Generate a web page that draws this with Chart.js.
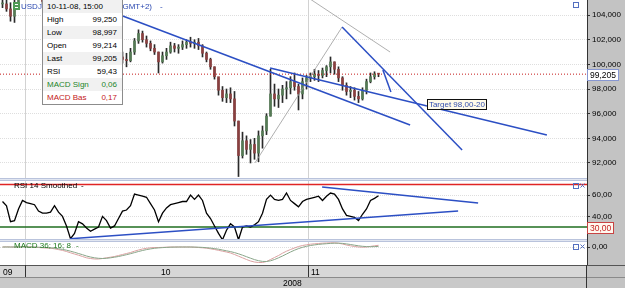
<!DOCTYPE html>
<html>
<head>
<meta charset="utf-8">
<script src="https://cdn.jsdelivr.net/npm/chart.js@4.4.1/dist/chart.umd.min.js"></script>
<style>
  html, body { margin: 0; padding: 0; background: #fff; }
  #wrap { position: relative; width: 625px; height: 288px; overflow: hidden; }
  #tip { position: absolute; left: 42px; top: -1px; width: 79px; border: 1px solid #8c8c8c; background: #fff;
         font: 8px 'Liberation Sans', Arial, sans-serif; color: #000; }
  #tip div { height: 13px; line-height: 13px; display: flex; justify-content: space-between; padding: 0 5px 0 4px; }
  #tip div:nth-child(odd) { background: #f1f1f1; }
  #tip .sig { color: #23852a; }
  #tip .bas { color: #c42020; }
</style>
</head>
<body>
<div id="wrap">
  <canvas id="chart" width="625" height="288"></canvas>
  <div id="tip"></div>
</div>
<script>
// USDJPY, one slot = one 4h bar
var hi = [105.4,105.3,105.0,105.3,106.3,106.4,106.2,106.1,106.3,106.0,
          105.7,105.4,105.2,105.3,105.1,104.6,104.0,103.1,102.5,102.9,
          102.8,102.3,101.6,101.2,101.4,101.8,101.6,100.8,100.4,100.9,
          101.0,100.9,101.3,102.1,102.8,102.7,102.3,101.9,101.6,101.0,
          101.0,101.3,101.8,101.7,101.6,101.9,102.0,102.2,102.0,102.1,
          101.6,101.0,100.5,99.8,98.9,98.2,98.0,98.1,97.8,95.4,
          94.5,94.2,93.9,94.0,94.6,95.0,96.0,99.6,98.4,98.0,
          98.3,98.6,99.0,99.3,98.4,98.9,99.1,99.3,99.6,99.5,
          99.7,99.9,100.6,100.2,99.8,99.0,98.5,98.2,98.1,97.8,
          98.1,98.8,99.3,99.4,99.25];
var lo = [104.6,104.3,103.5,103.4,105.4,105.6,105.5,105.4,105.6,105.3,
          104.9,104.6,104.5,104.6,104.2,103.6,102.6,101.4,101.5,101.9,
          101.8,101.1,100.6,100.3,100.5,100.9,100.2,99.6,99.4,99.9,
          100.1,99.8,100.2,100.8,101.7,101.8,101.4,101.1,100.8,99.3,
          100.1,100.4,100.9,101.0,100.9,101.2,101.3,101.4,101.3,101.2,
          100.6,100.2,99.6,98.8,97.5,97.0,96.9,96.9,95.0,90.9,
          92.4,92.7,92.0,92.3,92.1,93.2,94.3,95.8,96.6,96.5,
          96.9,97.2,97.6,97.9,96.3,97.2,98.0,98.6,98.7,98.6,
          98.9,99.0,99.3,99.2,98.6,97.9,97.5,97.3,97.1,96.9,
          97.1,97.6,98.5,98.8,98.997];
var cl = [104.9,104.5,103.9,105.0,106.0,106.1,105.8,105.9,106.0,105.5,
          105.1,104.9,104.8,105.0,104.4,103.9,102.9,101.8,102.1,102.6,
          102.2,101.4,100.9,100.9,101.1,101.5,100.5,99.9,100.1,100.6,
          100.4,100.3,101.0,101.9,102.5,102.0,101.7,101.3,101.0,100.2,
          100.7,101.0,101.5,101.3,101.4,101.6,101.8,101.7,101.8,101.5,
          100.9,100.4,99.8,99.0,97.9,97.3,97.6,97.2,95.4,92.6,
          93.8,93.1,93.5,92.8,94.2,94.6,95.8,97.6,97.2,97.5,
          98.0,98.1,98.6,98.2,97.6,98.6,98.9,99.0,99.2,99.1,
          99.5,99.8,100.2,99.6,98.9,98.3,97.8,97.9,97.4,97.2,
          97.9,98.6,99.0,99.214,99.205];
var rsi = [54,50,35,36,47,55,53,52,51,45,
           43,43,44,50,44,40,31,19,24,35,
           33,29,26,28,30,40,36,29,31,38,
           45,46,50,61,60,59,58,52,46,35,
           43,48,51,52,53,54,54,60,56,60,
           55,43,38,31,24,18,27,33,30,18,
           30,31,30,32,35,43,56,60,56,55,
           56,62,55,52,49,54,56,57,58,59,
           55,59,62,61,56,47,41,40,39,36,
           42,47,55,57,59.43];
var macdBas = [0,0.02,0,0,0.02,0.03,0.02,0,-0.02,-0.05,
               -0.08,-0.1,-0.12,-0.18,-0.26,-0.34,-0.45,-0.58,-0.7,-0.82,
               -0.95,-1.08,-1.15,-1.2,-1.2,-1.15,-1.08,-1.02,-0.95,-0.85,
               -0.75,-0.65,-0.55,-0.42,-0.3,-0.2,-0.13,-0.08,-0.05,-0.05,
               -0.04,-0.02,0,0,0,0,0,0,-0.02,-0.05,
               -0.08,-0.12,-0.18,-0.25,-0.33,-0.42,-0.5,-0.6,-0.75,-0.92,
               -1.08,-1.25,-1.4,-1.5,-1.55,-1.55,-1.45,-1.25,-1.05,-0.85,
               -0.62,-0.42,-0.25,-0.1,0.05,0.15,0.22,0.28,0.32,0.35,
               0.38,0.4,0.42,0.42,0.38,0.3,0.2,0.12,0.05,0,
               -0.02,0,0.06,0.12,0.17];
var macdSig = [0,0,0,0,0,0,0,0,0,-0.02,
               -0.04,-0.06,-0.08,-0.12,-0.17,-0.24,-0.32,-0.42,-0.53,-0.65,
               -0.77,-0.9,-1.0,-1.08,-1.13,-1.15,-1.13,-1.08,-1.02,-0.95,
               -0.86,-0.77,-0.67,-0.56,-0.45,-0.35,-0.26,-0.19,-0.13,-0.09,
               -0.06,-0.04,-0.02,-0.01,0,0,0,0,-0.01,-0.02,
               -0.04,-0.07,-0.11,-0.16,-0.22,-0.3,-0.38,-0.46,-0.56,-0.68,
               -0.82,-0.97,-1.12,-1.26,-1.37,-1.44,-1.45,-1.38,-1.25,-1.08,
               -0.9,-0.7,-0.5,-0.32,-0.16,-0.03,0.07,0.15,0.21,0.26,
               0.3,0.33,0.36,0.38,0.38,0.36,0.31,0.25,0.18,0.12,
               0.07,0.04,0.03,0.04,0.06];
var lastTime = '10-11-08, 15:00';

var priceTicks = [92, 94, 96, 98, 100, 102, 104];
var rsiTicks = [40, 60];
var macdTicks = [0];
var rsiHigh = 70, rsiLow = 30;

var monthLabels = ['09', '10', '11'];
var monthLabelAt = [0.1, 39.6, 77.1];
var monthStarts = [5.6, 76.4];
var yearLabel = '2008';
var yearLabelAt = 70.1;

// hand drawn lines, [slot, value] pairs
var blueLines = [
  [[29.4, 104.0], [101.9, 95.08]],
  [[66.9, 99.70], [136.1, 94.27]],
  [[84.9, 103.03], [114.9, 93.05]],
  [[95.1, 99.54], [97.1, 97.76]]
];
var grayLines = [
  [[63.1, 92.0], [84.9, 103.03]],
  [[76.9, 105.3], [96.9, 101.0]]
];
var rsiLines = [
  [[16.9, 19], [113.9, 45]],
  [[79.9, 67.6], [118.9, 52.6]]
];
var targetText = 'Target 98,00-20';
var targetAt = [106.1, 96.78];

var XMIN = -0.625, XMAX = 146.125;
var n = cl.length;
var blue = '#2c4fc4';

function fmt(v, d) { return v.toFixed(d).replace('.', ','); }

var wicks = [], bodies = [], bodyColors = [];
for (var i = 0; i < n; i++) {
  var o = i ? cl[i - 1] : cl[i];
  wicks.push({x: i, y: [lo[i], hi[i]]});
  bodies.push({x: i, y: [o, cl[i]]});
  bodyColors.push(cl[i] >= o ? '#557a55' : '#8a4040');
}

function seg(pts, axis, color, width, order) {
  return {
    type: 'line', yAxisID: axis, data: pts.map(function (p) { return {x: p[0], y: p[1]}; }),
    borderColor: color, borderWidth: width, pointRadius: 0, order: order
  };
}

var datasets = [
  {type: 'bar', yAxisID: 'yp', data: wicks, backgroundColor: '#2a2a2a', barThickness: 1, grouped: false, order: 6},
  {type: 'bar', yAxisID: 'yp', data: bodies, backgroundColor: bodyColors, barThickness: 2, minBarLength: 1, grouped: false, order: 5},
  Object.assign(seg([[XMIN, cl[n - 1]], [XMAX, cl[n - 1]]], 'yp', '#c41a1a', 1, 4), {borderDash: [1, 2]}),
  seg([[XMIN, rsiHigh], [XMAX, rsiHigh]], 'yr', '#e02424', 1.5, 3),
  seg([[XMIN, rsiLow], [XMAX, rsiLow]], 'yr', '#1f6e1f', 1.5, 3),
  {type: 'line', yAxisID: 'yr', data: rsi.map(function (v, i) { return {x: i, y: v}; }),
   borderColor: '#000', borderWidth: 1.3, pointRadius: 0, order: 2},
  {type: 'line', yAxisID: 'ym', data: macdSig.map(function (v, i) { return {x: i, y: v}; }),
   borderColor: '#8aa68a', borderWidth: 1, pointRadius: 0, order: 2},
  {type: 'line', yAxisID: 'ym', data: macdBas.map(function (v, i) { return {x: i, y: v}; }),
   borderColor: '#dba2a2', borderWidth: 1, pointRadius: 0, order: 2}
];
blueLines.forEach(function (l) { datasets.push(seg(l, 'yp', blue, 1.5, 1)); });
grayLines.forEach(function (l) { datasets.push(seg(l, 'yp', '#9a9a9a', 0.8, 1)); });
rsiLines.forEach(function (l) { datasets.push(seg(l, 'yr', blue, 1.5, 1)); });

function fitAxis(s) { s.width = 38; s.paddingTop = 0; s.paddingBottom = 0; }

function yAxis(weight, min, max, ticks, dec) {
  return {
    type: 'linear', position: 'right', stack: 'panes', stackWeight: weight, min: min, max: max,
    afterBuildTicks: function (s) { s.ticks = ticks.map(function (v) { return {value: v}; }); },
    afterFit: fitAxis,
    ticks: {callback: function (v) { return fmt(v, dec); }, padding: 2, color: '#000', font: {size: 8}},
    grid: {color: '#dedede', tickLength: 3, tickColor: '#333'},
    border: {color: '#333', dash: [1, 1]}
  };
}

var panes = {
  id: 'panes',
  beforeDraw: function (chart) {
    var ctx = chart.ctx, a = chart.chartArea, W = chart.width, H = chart.height;
    ctx.save();
    ctx.fillStyle = '#fff';
    ctx.fillRect(0, 0, W, H);
    ctx.fillStyle = '#c3c3c3';
    ctx.fillRect(a.right, 0, W - a.right, H);
    ctx.fillStyle = '#d7d7d7';
    ctx.fillRect(0, a.bottom, a.right, 12);
    ctx.fillStyle = '#c9c9c9';
    ctx.fillRect(0, a.bottom + 12, a.right, H - a.bottom - 12);
    ctx.restore();
  },
  beforeDatasetsDraw: function (chart) {
    var ctx = chart.ctx, a = chart.chartArea, x = chart.scales.x;
    ctx.save();
    ctx.strokeStyle = '#d2d2d2';
    ctx.lineWidth = 1;
    monthStarts.forEach(function (m) {
      var px = Math.round(x.getPixelForValue(m)) + 0.5;
      ctx.beginPath(); ctx.moveTo(px, a.top); ctx.lineTo(px, a.bottom); ctx.stroke();
    });
    ctx.restore();
  },
  afterDraw: function (chart) {
    var ctx = chart.ctx, a = chart.chartArea, s = chart.scales, W = chart.width, H = chart.height;
    ctx.save();
    // pane separators
    [s.yp.bottom, s.yr.bottom].forEach(function (y) {
      ctx.fillStyle = '#e1e6f1';
      ctx.fillRect(0, y - 1, a.right, 3);
      ctx.fillStyle = '#b9c3dc';
      ctx.fillRect(0, y - 1, a.right, 1);
      ctx.fillRect(0, y + 1, a.right, 1);
    });
    // bottom time rows
    ctx.fillStyle = '#555';
    ctx.fillRect(0, a.bottom, W, 1);
    ctx.fillStyle = '#8a8a8a';
    ctx.fillRect(0, a.bottom + 12, W, 1);
    ctx.fillStyle = '#333';
    ctx.fillRect(a.right - 1, a.bottom, 1, H - a.bottom);
    monthStarts.forEach(function (m) {
      ctx.fillRect(Math.round(s.x.getPixelForValue(m)), a.bottom, 1, 12);
    });
    ctx.font = '8.5px "Liberation Sans", Arial, sans-serif';
    ctx.fillStyle = '#000';
    ctx.textBaseline = 'alphabetic';
    monthLabels.forEach(function (t, k) { ctx.fillText(t, s.x.getPixelForValue(monthLabelAt[k]), a.bottom + 10); });
    ctx.fillText(yearLabel, s.x.getPixelForValue(yearLabelAt), a.bottom + 21);

    // title line
    ctx.font = '8px "Liberation Sans", Arial, sans-serif';
    ctx.fillStyle = '#4f9a55';
    ctx.fillRect(13, 2, 7, 8);
    ctx.fillStyle = '#fff';
    ctx.fillRect(15, 4, 3, 1); ctx.fillRect(15, 7, 3, 1);
    ctx.fillStyle = '#2a48b0';
    ctx.fillText('USDJPY', 21, 9);
    ctx.textAlign = 'right';
    ctx.fillText('4 Hours (GMT+2)', 152, 9);
    ctx.textAlign = 'left';
    ctx.fillText('-', 160, 9);

    // pane titles
    ctx.font = '8px "Liberation Sans", Arial, sans-serif';
    ctx.fillStyle = '#000';
    ctx.fillText('RSI 14 Smoothed', 14, s.yp.bottom + 9);
    ctx.fillText('-', 81, s.yp.bottom + 9);
    ctx.fillStyle = '#1e7a1e';
    ctx.fillText('MACD 36; 16; 8', 14, s.yr.bottom + 8);
    ctx.fillText('-', 76, s.yr.bottom + 8);

    // pane buttons
    ctx.strokeStyle = '#5470c0';
    ctx.lineWidth = 1;
    ctx.strokeRect(573.5, 2.5, 5, 5);
    [s.yp.bottom + 4, s.yr.bottom + 4].forEach(function (y) {
      ctx.strokeRect(573.5, y + 0.5, 5, 5);
      ctx.beginPath();
      ctx.moveTo(580.5, y + 0.5); ctx.lineTo(584.5, y + 4.5);
      ctx.moveTo(584.5, y + 0.5); ctx.lineTo(580.5, y + 4.5);
      ctx.stroke();
    });

    // target label
    var tx = s.x.getPixelForValue(targetAt[0]), ty = s.yp.getPixelForValue(targetAt[1]);
    ctx.font = '8px "Liberation Sans", Arial, sans-serif';
    var tw = ctx.measureText(targetText).width;
    ctx.fillStyle = '#fffbea';
    ctx.fillRect(tx, ty - 5, tw + 4, 10);
    ctx.strokeStyle = '#111';
    ctx.strokeRect(Math.round(tx) + 0.5, Math.round(ty - 5) + 0.5, Math.round(tw + 3), 10);
    ctx.fillStyle = '#3550b0';
    ctx.fillText(targetText, tx + 2, ty + 3);

    // last price and RSI level markers on the axis
    function marker(y, text, bg, border, color) {
      ctx.font = '8.5px "Liberation Sans", Arial, sans-serif';
      var w = ctx.measureText(text).width + 5;
      ctx.fillStyle = bg;
      ctx.fillRect(a.right, y - 5, w, 11);
      ctx.strokeStyle = border;
      ctx.strokeRect(a.right + 0.5, Math.round(y - 5) + 0.5, Math.round(w), 11);
      ctx.fillStyle = color;
      ctx.fillText(text, a.right + 3, y + 3.5);
    }
    marker(s.yp.getPixelForValue(cl[n - 1]), fmt(cl[n - 1], 3), '#fff', '#8797d2', '#000');
    marker(s.yr.getPixelForValue(rsiLow), fmt(rsiLow, 2), '#fff8ef', '#c84444', '#c42020');
    ctx.restore();
  }
};

Chart.defaults.font.family = '"Liberation Sans", Arial, sans-serif';
Chart.defaults.font.size = 8;

new Chart(document.getElementById('chart'), {
  type: 'line',
  data: {datasets: datasets},
  options: {
    responsive: false,
    animation: false,
    events: [],
    devicePixelRatio: 1,
    layout: {padding: {left: 0, right: 0, top: 0, bottom: 23}, autoPadding: false},
    plugins: {legend: {display: false}, tooltip: {enabled: false}},
    scales: {
      x: {type: 'linear', min: XMIN, max: XMAX, display: false, offset: false},
      yp: yAxis(179, 90.70, 105.22, priceTicks, 3),
      yr: yAxis(61, 17.77, 75.18, rsiTicks, 2),
      ym: yAxis(25, -1.8, 0.7, macdTicks, 2)
    }
  },
  plugins: [panes]
});

// info box for the last bar
var last = n - 1;
var rows = [
  [lastTime, ''],
  ['High', fmt(hi[last], 3)],
  ['Low', fmt(lo[last], 3)],
  ['Open', fmt(cl[last - 1], 3)],
  ['Last', fmt(cl[last], 3)],
  ['RSI', fmt(rsi[last], 2)],
  ['MACD Sign', fmt(macdSig[last], 2), 'sig'],
  ['MACD Bas', fmt(macdBas[last], 2), 'bas']
];
document.getElementById('tip').innerHTML = rows.map(function (r) {
  return '<div' + (r[2] ? ' class="' + r[2] + '"' : '') + '><span>' + r[0] + '</span><span>' + r[1] + '</span></div>';
}).join('');
</script>
</body>
</html>
